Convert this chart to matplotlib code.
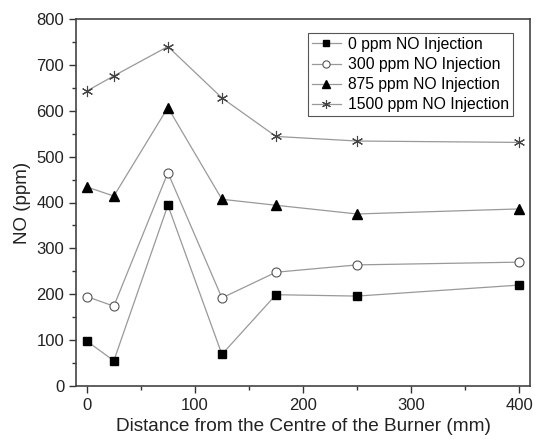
import numpy as np
import matplotlib.pyplot as plt
from matplotlib.ticker import MultipleLocator

plt.rcParams['font.family'] = ['Liberation Sans', 'DejaVu Sans']

distance = [0, 25, 75, 125, 175, 250, 400]
no_0 = [98, 55, 394, 69, 199, 196, 220]
no_300 = [195, 174, 465, 192, 248, 264, 270]
no_875 = [434, 414, 607, 407, 394, 375, 386]
no_1500 = [643, 676, 740, 628, 544, 534, 531]
labels = ['0 ppm NO Injection', '300 ppm NO Injection',
          '875 ppm NO Injection', '1500 ppm NO Injection']

font = 12
fig = plt.figure(figsize=(5.35, 4.43), dpi=100)
ax = fig.add_axes([76/535, 1-386/443, (530-76)/535, (386-19)/443])

line_col = '#999999'
ax.plot(distance, no_0, color=line_col, lw=0.9, marker='s', ms=6,
        mfc='black', mec='black', label=labels[0])
ax.plot(distance, no_300, color=line_col, lw=0.9, marker='o', ms=6.5,
        mfc='white', mec='#555555', mew=0.8, label=labels[1])
ax.plot(distance, no_875, color=line_col, lw=0.9, marker='^', ms=7,
        mfc='black', mec='black', label=labels[2])
ax.plot(distance, no_1500, color=line_col, lw=0.9, marker=(6, 2, 0), ms=8,
        mfc='none', mec='#444444', mew=0.8, label=labels[3])

ax.set_xlim(-10, 410)
ax.set_ylim(0, 800)
ax.xaxis.set_major_locator(MultipleLocator(100))
ax.xaxis.set_minor_locator(MultipleLocator(50))
ax.yaxis.set_major_locator(MultipleLocator(100))
ax.yaxis.set_minor_locator(MultipleLocator(50))
ax.tick_params(which='both', direction='out', colors='#333333', labelsize=font,
               labelcolor='#222222')
ax.tick_params(which='major', length=5, width=1)
ax.tick_params(which='minor', length=3, width=1)
for s in ax.spines.values():
    s.set_color('#444444')
    s.set_linewidth(1.2)

ax.set_xlabel('Distance from the Centre of the Burner (mm)', fontsize=13.7,
              color='#222222', labelpad=4)
ax.set_ylabel('NO (ppm)', fontsize=13.5, color='#222222', labelpad=4)

leg = ax.legend(loc='upper right', bbox_to_anchor=(0.962, 0.962), fontsize=11.3,
                fancybox=False, framealpha=1, edgecolor='#555555',
                handlelength=1.85, handletextpad=0.45, borderpad=0.25,
                borderaxespad=0, labelspacing=0.33, markerscale=0.8)
leg.get_frame().set_linewidth(0.8)

fig.savefig('out.png', dpi=100)
